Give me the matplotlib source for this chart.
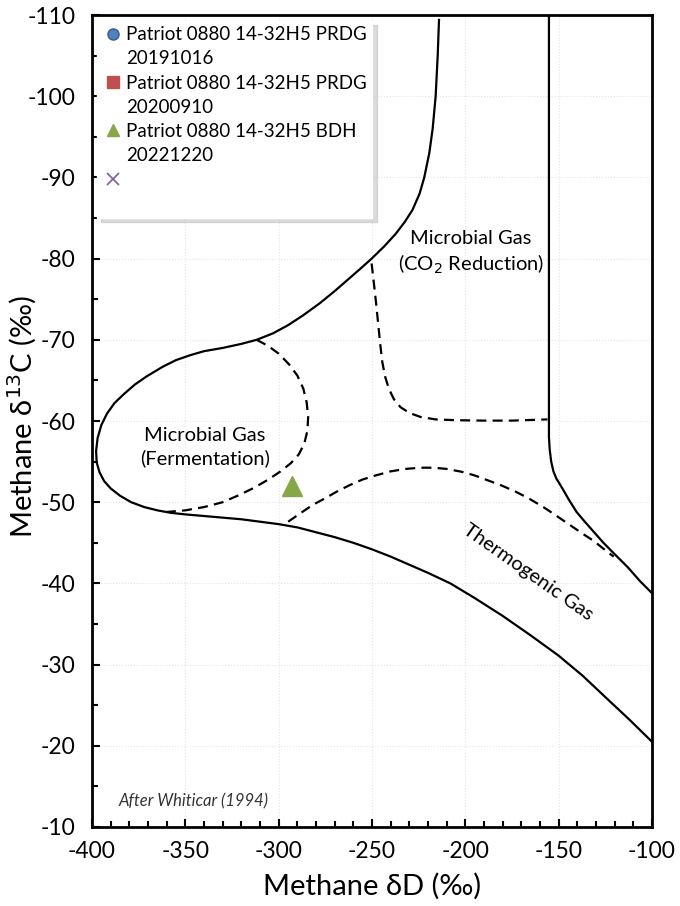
import matplotlib.pyplot as plt
from matplotlib.lines import Line2D
from matplotlib.ticker import MultipleLocator

plt.rcParams['font.family'] = ['Lato', 'DejaVu Sans']
plt.rcParams['axes.unicode_minus'] = False

# sample data
prdg_2019_dD, prdg_2019_d13C = [], []
prdg_2020_dD, prdg_2020_d13C = [], []
bdh_2022_dD, bdh_2022_d13C = [-293], [-52]
other_dD, other_d13C = [], []

# Whiticar (1994) field boundaries
outer_dD = [-214.1, -214.8, -215.9, -217.5, -219.3, -222.0, -224.5, -228.3, -232.5,
            -237.5, -243.5, -250.2, -256.5, -263.0, -270.0, -278.0, -287.0, -295.0,
            -303.0, -311.8, -320.0, -330.0, -340.0, -347.5, -355.0, -362.0, -370.7,
            -377.0, -383.0, -388.0, -392.0, -395.0, -397.0, -397.8, -397.5, -396.0,
            -393.5, -390.0, -385.0, -379.0, -372.0, -365.0, -358.0, -350.0, -340.0,
            -330.0, -320.0, -310.0, -300.0, -290.0, -280.0, -270.0, -260.0, -250.0,
            -240.0, -230.0, -220.0, -208.0, -195.0, -180.0, -165.0, -150.0, -137.0,
            -125.0, -112.0, -100.0]
outer_d13C = [-109.4, -105.0, -100.0, -96.0, -93.0, -90.0, -88.0, -86.0, -84.5,
              -83.0, -81.5, -80.0, -78.7, -77.4, -76.0, -74.5, -73.0, -71.8,
              -70.8, -70.0, -69.5, -69.0, -68.6, -68.1, -67.5, -66.7, -65.5,
              -64.5, -63.3, -62.2, -60.9, -59.5, -57.9, -56.3, -54.9, -53.7,
              -52.6, -51.7, -50.8, -50.0, -49.4, -49.0, -48.7, -48.5, -48.3,
              -48.1, -47.9, -47.6, -47.3, -46.9, -46.3, -45.7, -45.0, -44.2,
              -43.3, -42.3, -41.3, -40.0, -38.2, -36.0, -33.6, -31.1, -28.6,
              -26.0, -23.2, -20.5]

right_dD = [-155.2, -155.2, -154.8, -154.0, -152.8, -151.2, -149.3, -147.0, -144.5,
            -140.4, -136.0, -131.0, -126.0, -120.0, -113.0, -106.5, -100.0]
right_d13C = [-110.0, -58.0, -56.5, -55.0, -53.8, -52.9, -52.2, -51.3, -50.3,
              -48.8, -47.6, -46.3, -45.0, -43.6, -42.0, -40.3, -38.8]

ferm_dD = [-311.8, -306.0, -300.0, -294.5, -290.0, -286.8, -285.0, -284.2, -284.6,
           -286.3, -289.2, -293.5, -299.0, -305.5, -313.0, -321.0, -330.0, -340.0,
           -350.0, -360.0]
ferm_d13C = [-70.0, -69.3, -68.3, -67.0, -65.6, -64.0, -62.3, -60.5, -58.8,
             -57.2, -55.9, -54.8, -53.8, -52.8, -51.8, -50.9, -50.0, -49.4,
             -49.0, -48.8]

co2_dD = [-250.2, -249.0, -247.8, -246.7, -245.6, -244.5, -243.0, -241.0, -238.3,
          -234.7, -230.0, -224.0, -216.0, -205.0, -190.0, -175.0, -156.0]
co2_d13C = [-79.4, -77.0, -74.5, -72.0, -69.5, -67.3, -65.5, -64.0, -62.7,
            -61.7, -61.0, -60.5, -60.2, -60.1, -60.05, -60.05, -60.2]

thermo_dD = [-294.9, -288.0, -281.5, -275.0, -268.9, -262.0, -255.0, -248.0, -240.0,
             -232.0, -224.0, -217.0, -210.0, -202.0, -195.0, -188.6, -181.0, -173.0,
             -165.5, -158.2, -151.0, -144.0, -137.0, -131.0, -124.0, -120.5]
thermo_d13C = [-47.6, -48.7, -49.7, -50.5, -51.3, -52.1, -52.8, -53.3, -53.8,
               -54.1, -54.25, -54.25, -54.1, -53.75, -53.3, -52.75, -52.1, -51.3,
               -50.4, -49.4, -48.3, -47.2, -46.1, -45.2, -43.9, -43.3]

fig = plt.figure(figsize=(6.8, 9.06), dpi=100)
ax = fig.add_axes([0.1353, 0.0872, 0.8235, 0.8962])

line_kw = dict(color='black', lw=1.6, solid_joinstyle='round', dash_joinstyle='round', zorder=3)
ax.plot(outer_dD, outer_d13C, **line_kw)
ax.plot(right_dD, right_d13C, **line_kw)
for xs, ys in [(ferm_dD, ferm_d13C), (co2_dD, co2_d13C), (thermo_dD, thermo_d13C)]:
    ax.plot(xs, ys, ls=(0, (4.5, 2.8)), **line_kw)

s1, = ax.plot(prdg_2019_dD, prdg_2019_d13C, 'o', ms=8, color='#4F81BD', mec='#385D8A', ls='none')
s2, = ax.plot(prdg_2020_dD, prdg_2020_d13C, 's', ms=8, color='#C0504D', mec='#C0504D', ls='none')
s3, = ax.plot(bdh_2022_dD, bdh_2022_d13C, '^', ms=15, color='#86A64A', mec='#86A64A', ls='none', zorder=4)
s4, = ax.plot(other_dD, other_d13C, 'x', ms=8, mew=1.3, color='#8064A2', ls='none')

ax.text(-197, -80.7, 'Microbial Gas\n(CO$_2$ Reduction)', ha='center', va='center',
        fontsize=14.5, linespacing=1.3)
ax.text(-339.5, -56.8, 'Microbial Gas\n(Fermentation)', ha='center', va='center',
        fontsize=14.5, linespacing=1.3)
ax.text(-166.5, -41.4, 'Thermogenic Gas', ha='center', va='center', rotation=-35,
        fontsize=14.5)
ax.text(-386, -13.1, 'After Whiticar (1994)', ha='left', va='center', style='italic',
        fontsize=12, color='#333333')

ax.set_xlim(-400, -100)
ax.set_ylim(-10, -110)
ax.xaxis.set_major_locator(MultipleLocator(50))
ax.xaxis.set_minor_locator(MultipleLocator(10))
ax.yaxis.set_major_locator(MultipleLocator(10))
ax.yaxis.set_minor_locator(MultipleLocator(5))
ax.tick_params(which='both', direction='in', width=1.5, labelsize=16.5)
ax.tick_params(axis='y', pad=12)
ax.tick_params(axis='x', pad=10)
ax.tick_params(which='major', length=6)
ax.tick_params(which='minor', length=4)
ax.grid(True, which='major', color='#E4E4E4', lw=0.8, ls=':')
for sp in ax.spines.values():
    sp.set_linewidth(2)

ax.set_xlabel('Methane \u03b4D (\u2030)', fontsize=21, va='center')
ax.set_ylabel('Methane \u03b4$^{13}$C (\u2030)', fontsize=21, va='center')
ax.xaxis.set_label_coords(0.5, -0.073)
ax.yaxis.set_label_coords(-0.125, 0.505)

# legend: one row per text line so the marker sits on the first line
blank = Line2D([], [], ls='none', marker='')
s3_leg = Line2D([], [], marker='^', ms=9, color='#86A64A', ls='none')
handles = [s1, blank, s2, blank, s3_leg, blank, s4, blank]
labels = ['Patriot 0880 14-32H5 PRDG', '20191016',
          'Patriot 0880 14-32H5 PRDG', '20200910',
          'Patriot 0880 14-32H5 BDH', '20221220',
          ' ', ' ']
leg = ax.legend(handles, labels, loc='upper left', bbox_to_anchor=(0.009, 0.993),
                borderaxespad=0, fontsize=13.5, handlelength=1.1, handletextpad=0.15,
                labelspacing=0.38, borderpad=0.3, frameon=True, fancybox=False,
                framealpha=1, edgecolor='white',
                shadow={'ox': 3, 'oy': -3, 'color': '#B8B8B8', 'alpha': 0.5})

plt.savefig('out.png', dpi=100)
